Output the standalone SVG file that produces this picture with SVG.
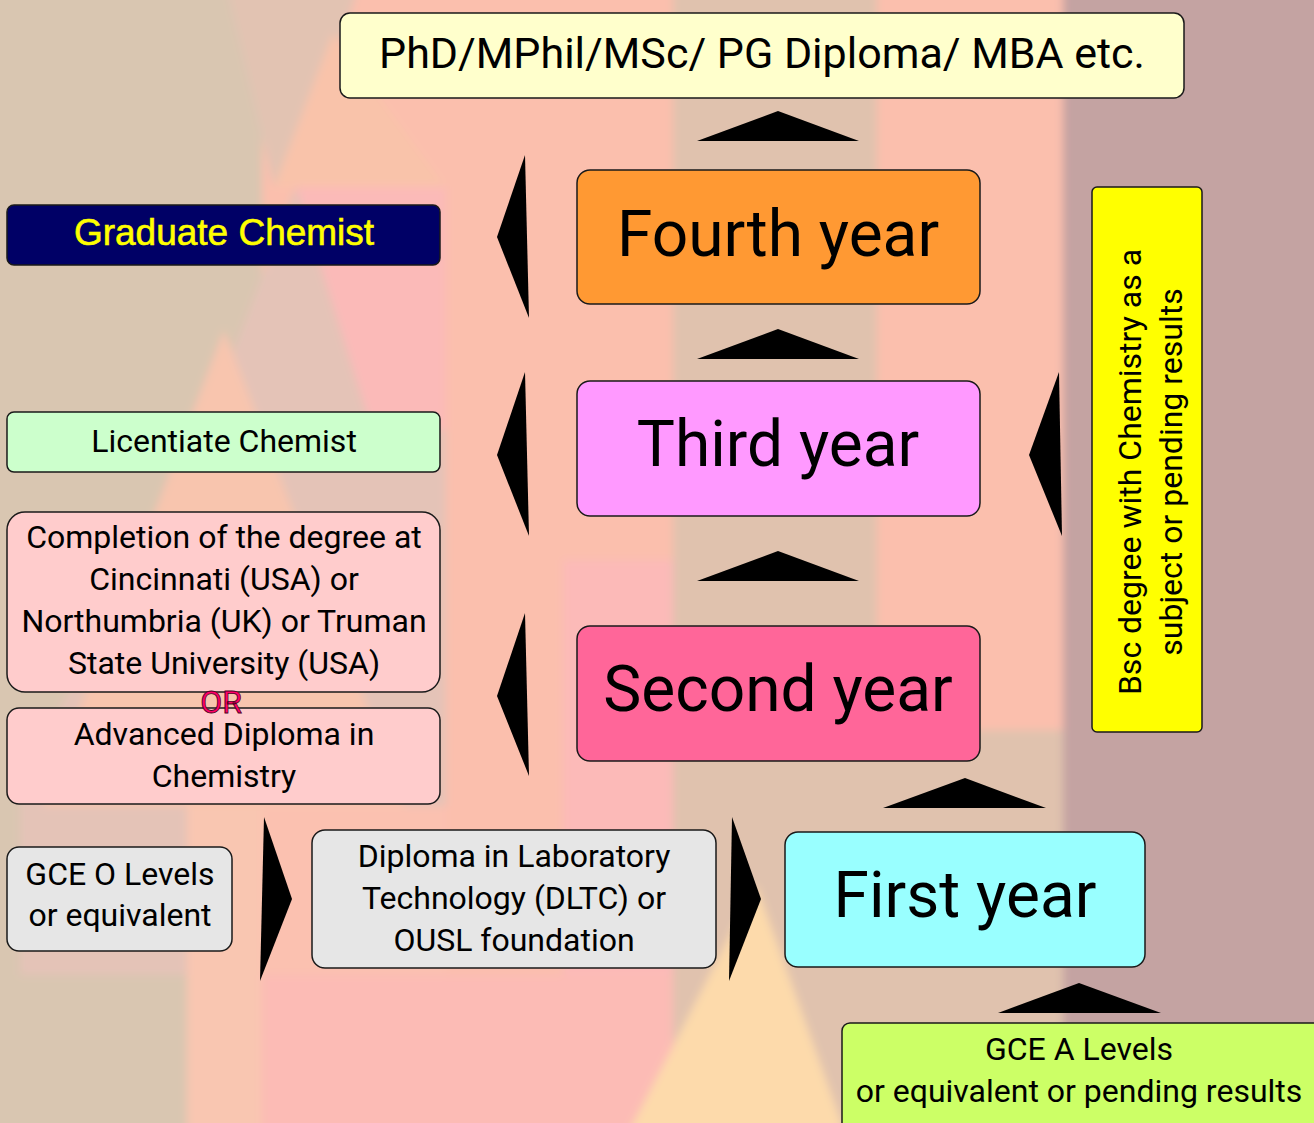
<svg xmlns="http://www.w3.org/2000/svg" width="1314" height="1123" viewBox="0 0 1314 1123">
<style>
.box{stroke:#1a1a1a;stroke-width:1.5}
.t{font-family:Roboto,"Liberation Sans",sans-serif;fill:#000;text-anchor:middle}
.s32{font-size:32px}
.big{font-size:64px}
.arrow{fill:#000}
</style>
<defs>
<filter id="soft" filterUnits="userSpaceOnUse" x="-60" y="-60" width="1434" height="1243"><feGaussianBlur stdDeviation="4"/></filter>
</defs>
<g id="background" filter="url(#soft)">
<rect x="-50" y="-50" width="1414" height="1223" fill="#fbbfad"/>
<rect x="-50" y="-50" width="312" height="1223" fill="#d9c6b1"/>
<polygon points="218,-50 370,-50 296,187 274,187" fill="#e2c3b2"/>
<polygon points="333,33 274,187 446,187" fill="#f9c3aa"/>
<polygon points="296,187 446,187 446,975 20,975 20,780 140,560 207,420" fill="#e4c3b7"/>
<polygon points="296,187 446,187 446,430 372,430" fill="#fbbab8"/>
<polygon points="224,330 43,806 405,806" fill="#f8c5ae"/>
<rect x="187" y="806" width="75" height="380" fill="#f9c6b1"/>
<rect x="262" y="806" width="184" height="170" fill="#fbc1b0"/>
<rect x="563" y="560" width="110" height="620" fill="#fcbab8"/>
<rect x="262" y="975" width="411" height="210" fill="#fcbbb5"/>
<rect x="1063" y="-50" width="300" height="1223" fill="#c4a3a2"/>
<rect x="673" y="-50" width="204" height="1223" fill="#e0c2ae"/>
<rect x="877" y="730" width="186" height="443" fill="#e0c2ae"/>
<polygon points="756,885 604,1180 862,1180" fill="#fddaab"/>
</g>
<g id="connectors">
<polygon class="arrow" points="697,141 778,111 859,141"/>
<polygon class="arrow" points="697,359 778,329 859,359"/>
<polygon class="arrow" points="697,581 778,551 859,581"/>
<polygon class="arrow" points="883,808 965,778 1046,808"/>
<polygon class="arrow" points="998,1013 1079,983 1161,1013"/>
<polygon class="arrow" points="525,155 497,237 529,318"/>
<polygon class="arrow" points="525,372 497,455 529,536"/>
<polygon class="arrow" points="525,613 497,696 529,776"/>
<polygon class="arrow" points="1059,372 1029,455 1062,536"/>
<polygon class="arrow" points="264,817 292,899 260,981"/>
<polygon class="arrow" points="732,817 761,899 729,981"/>
</g>
<g id="phd">
<rect class="box" x="340" y="13" width="844" height="85" rx="10" fill="#ffffcc"/>
<text class="t" x="762" y="68" font-size="43">PhD/MPhil/MSc/ PG Diploma/ MBA etc.</text>
</g>
<g id="fourth">
<rect class="box" x="577" y="170" width="403" height="134" rx="13" fill="#ff9933"/>
<text class="t big" x="778" y="256">Fourth year</text>
</g>
<g id="third">
<rect class="box" x="577" y="381" width="403" height="135" rx="13" fill="#ff99ff"/>
<text class="t big" x="778" y="466">Third year</text>
</g>
<g id="second">
<rect class="box" x="577" y="626" width="403" height="135" rx="13" fill="#ff6699"/>
<text class="t big" x="778" y="711">Second year</text>
</g>
<g id="first">
<rect class="box" x="785" y="832" width="360" height="135" rx="13" fill="#99ffff"/>
<text class="t big" x="965" y="917">First year</text>
</g>
<g id="gcea">
<rect class="box" x="842" y="1023" width="480" height="110" rx="8" fill="#ccff66"/>
<text class="t s32" x="1079" y="1060">GCE A Levels</text>
<text class="t s32" x="1079" y="1102">or equivalent or pending results</text>
</g>
<g id="bsc">
<rect class="box" x="1092" y="187" width="110" height="545" rx="5" fill="#ffff00"/>
<text class="t s32" transform="translate(1147,472) rotate(-90)"><tspan x="0" y="-6">Bsc degree with Chemistry as a</tspan><tspan x="0" y="35">subject or pending results</tspan></text>
</g>
<g id="graduate">
<rect class="box" x="7" y="205" width="433" height="60" rx="7" fill="#000066"/>
<text x="224" y="245" font-family="'Liberation Sans',Arial,sans-serif" font-size="37" fill="#ffff00" stroke="#ffff00" stroke-width="0.6" text-anchor="middle">Graduate Chemist</text>
</g>
<g id="licentiate">
<rect class="box" x="7" y="412" width="433" height="60" rx="7" fill="#ccffcc"/>
<text class="t s32" x="224" y="452">Licentiate Chemist</text>
</g>
<g id="completion">
<rect class="box" x="7" y="512" width="433" height="180" rx="18" fill="#ffcccc"/>
<text class="t s32" x="224" y="548">Completion of the degree at</text>
<text class="t s32" x="224" y="590">Cincinnati (USA) or</text>
<text class="t s32" x="224" y="632">Northumbria (UK) or Truman</text>
<text class="t s32" x="224" y="674">State University (USA)</text>
</g>
<g id="advanced">
<rect class="box" x="7" y="708" width="433" height="96" rx="12" fill="#ffcccc"/>
<text class="t s32" x="224" y="745">Advanced Diploma in</text>
<text class="t s32" x="224" y="787">Chemistry</text>
</g>
<g id="or">
<text x="221" y="713" font-family="Roboto,'Liberation Sans',sans-serif" font-size="32" text-anchor="middle" fill="#ff0066" stroke="#4d0022" stroke-width="0.8">OR</text>
</g>
<g id="gceo">
<rect class="box" x="7" y="847" width="225" height="104" rx="12" fill="#e6e6e6"/>
<text class="t s32" x="120" y="885">GCE O Levels</text>
<text class="t s32" x="120" y="926">or equivalent</text>
</g>
<g id="diploma">
<rect class="box" x="312" y="830" width="404" height="138" rx="13" fill="#e6e6e6"/>
<text class="t s32" x="514" y="867">Diploma in Laboratory</text>
<text class="t s32" x="514" y="909">Technology (DLTC) or</text>
<text class="t s32" x="514" y="951">OUSL foundation</text>
</g>
</svg>
